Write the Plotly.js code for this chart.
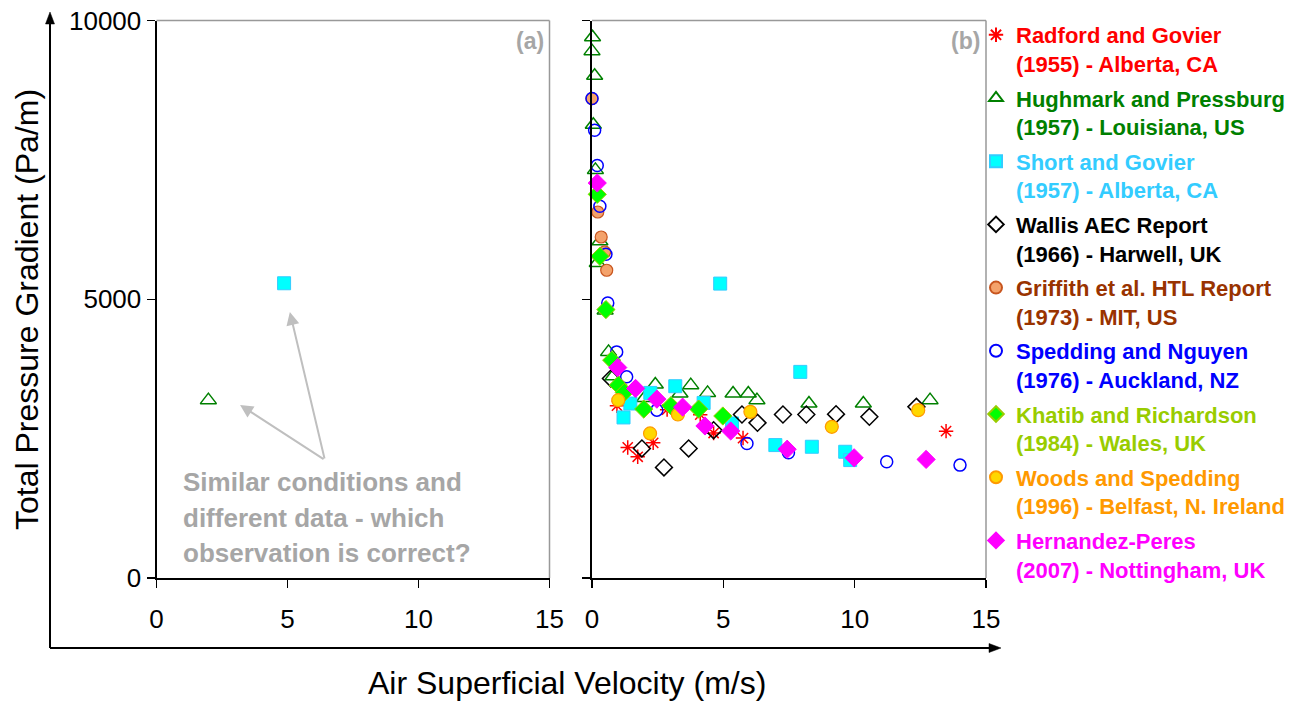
<!DOCTYPE html>
<html>
<head>
<meta charset="utf-8">
<script src="https://cdn.plot.ly/plotly-3.0.1.min.js"></script>
<style>html,body{margin:0;padding:0;background:#fff;}#chart{width:1302px;height:702px;}</style>
</head>
<body>
<div id="chart"></div>
<script>
// ---------- data ----------
const radfordX = [0.95, 2.86, 1.36, 1.74, 2.33, 4.12, 4.63, 5.75, 13.48];
const radfordY = [3090, 3020, 2342, 2174, 2425, 2930, 2600, 2510, 2634];

const hughmarkX = [0.02, 0.0, 0.1, 0.05, 0.13, 0.3, 0.2, 0.5, 0.63, 0.8, 2.0, 2.41, 3.35, 3.76, 4.4, 5.37, 5.95, 6.28, 8.26, 10.33, 12.87];
const hughmarkY = [9700, 9450, 9010, 8130, 7320, 6040, 5650, 4800, 4056, 3620, 3230, 3470, 3310, 3459, 3320, 3310, 3310, 3190, 3130, 3130, 3190];

const shortX = [1.2, 1.46, 2.22, 3.17, 4.25, 4.88, 5.33, 6.98, 7.93, 8.37, 9.64, 9.83];
const shortY = [2880, 3130, 3320, 3440, 3140, 5281, 2772, 2384, 3697, 2354, 2264, 2115];

const wallisX = [0.72, 1.9, 2.74, 3.68, 4.63, 5.71, 6.3, 7.27, 8.16, 9.29, 10.56, 12.35];
const wallisY = [3580, 2324, 1984, 2324, 2652, 2933, 2783, 2933, 2933, 2939, 2891, 3070];

const griffithX = [0.0, 0.22, 0.35, 0.48, 0.56];
const griffithY = [8600, 6565, 6117, 5848, 5520];

const speddingX = [0.0, 0.1, 0.2, 0.3, 0.53, 0.6, 0.94, 1.32, 2.47, 5.9, 7.48, 11.22, 14.01];
const speddingY = [8600, 8030, 7400, 6667, 5806, 4934, 4056, 3608, 3011, 2414, 2246, 2084, 2025];

const khatibX = [0.2, 0.3, 0.53, 0.75, 1.0, 1.23, 1.97, 3.0, 4.06, 4.98];
const khatibY = [6882, 5770, 4815, 3907, 3459, 3328, 3030, 3090, 3030, 2906];

const woodsX = [1.0, 2.21, 3.27, 6.03, 9.13, 12.42];
const woodsY = [3190, 2593, 2933, 2980, 2712, 3011];

const hernandezX = [0.2, 0.98, 1.66, 2.47, 3.45, 4.3, 5.28, 7.43, 9.98, 12.72];
const hernandezY = [7085, 3775, 3400, 3208, 3065, 2727, 2637, 2310, 2156, 2127];

// panel (a): the two conflicting observations
const panelAHughmarkX = [1.98];
const panelAHughmarkY = [3190];
const panelAShortX = [4.87];
const panelAShortY = [5287];

const seriesNames = [
  ['Radford and Govier', '(1955) - Alberta, CA'],
  ['Hughmark and Pressburg', '(1957) - Louisiana, US'],
  ['Short and Govier', '(1957) - Alberta, CA'],
  ['Wallis AEC Report', '(1966) - Harwell, UK'],
  ['Griffith et al. HTL Report', '(1973) - MIT, US'],
  ['Spedding and Nguyen', '(1976) - Auckland, NZ'],
  ['Khatib and Richardson', '(1984) - Wales, UK'],
  ['Woods and Spedding', '(1996) - Belfast, N. Ireland'],
  ['Hernandez-Peres', '(2007) - Nottingham, UK']
];
const textColors = ['#FF0000', '#008000', '#33CCFF', '#000000', '#993300', '#0000FF', '#99CC00', '#FF9900', '#FF00FF'];

const xTicks = [0, 5, 10, 15];
const xTickText = ['0', '5', '10', '15'];
const yTicks = [0, 5000, 10000];
const yTickText = ['0', '5000', '10000'];
const noteLines = ['Similar conditions and', 'different data - which', 'observation is correct?'];

// ---------- styling ----------
const FONT = 'Arial, "Liberation Sans", sans-serif';
const W = 1302, H = 702;
const px = v => v / W;
const py = v => 1 - v / H;

const markers = [
  {symbol: 'asterisk-open', size: 12, color: '#FF0000', line: {color: '#FF0000', width: 1.5}},
  {symbol: 'triangle-up-open', size: 14, color: '#008000', line: {color: '#008000', width: 1.5}},
  {symbol: 'square', size: 13, color: '#00FFFF', line: {color: '#33CCFF', width: 1}},
  {symbol: 'diamond-open', size: 13, color: '#000000', line: {color: '#000000', width: 1.5}},
  {symbol: 'circle', size: 12, color: '#F4A26B', line: {color: '#C8551E', width: 1.2}},
  {symbol: 'circle-open', size: 12, color: '#0000FF', line: {color: '#0000FF', width: 1.5}},
  {symbol: 'diamond', size: 14, color: '#00FF00', line: {color: '#99CC00', width: 1}},
  {symbol: 'circle', size: 13, color: '#FFD700', line: {color: '#FF9900', width: 1.2}},
  {symbol: 'diamond', size: 14, color: '#FF00FF', line: {color: '#FF00FF', width: 1}}
];

const dataX = [radfordX, hughmarkX, shortX, wallisX, griffithX, speddingX, khatibX, woodsX, hernandezX];
const dataY = [radfordY, hughmarkY, shortY, wallisY, griffithY, speddingY, khatibY, woodsY, hernandezY];

const traces = [];
// panel (a)
traces.push({x: panelAHughmarkX, y: panelAHughmarkY, xaxis: 'x', yaxis: 'y', type: 'scatter', mode: 'markers',
  marker: markers[1], showlegend: false, cliponaxis: false, hoverinfo: 'x+y'});
traces.push({x: panelAShortX, y: panelAShortY, xaxis: 'x', yaxis: 'y', type: 'scatter', mode: 'markers',
  marker: markers[2], showlegend: false, cliponaxis: false, hoverinfo: 'x+y'});
// panel (b)
for (let i = 0; i < seriesNames.length; i++) {
  traces.push({
    x: dataX[i], y: dataY[i], xaxis: 'x2', yaxis: 'y2', type: 'scatter', mode: 'markers',
    marker: markers[i], cliponaxis: false, legendgroup: 'g' + i,
    name: '<span style="color:' + textColors[i] + '"><b>' + seriesNames[i][0] + '<br>' + seriesNames[i][1] + '</b></span>'
  });
}

const axisCommon = {
  range: [0, 15], tickvals: xTicks, ticktext: xTickText, ticks: 'outside', ticklen: 8, tickwidth: 1.5, tickcolor: '#000',
  showline: true, linecolor: '#000', linewidth: 2, showgrid: false, zeroline: false, ticklabelstandoff: 9,
  tickfont: {family: FONT, size: 26, color: '#000'}, fixedrange: true
};
const yCommon = {
  range: [0, 10000], tickvals: yTicks, ticktext: yTickText, ticks: 'outside', ticklen: 8, tickwidth: 1.5, tickcolor: '#000',
  showline: true, linecolor: '#000', linewidth: 2, showgrid: false, zeroline: false,
  tickfont: {family: FONT, size: 26, color: '#000'}, fixedrange: true,
  domain: [py(578), py(20.5)]
};

const gray = '#A6A6A6';
const annotations = [
  {xref: 'paper', yref: 'paper', x: px(567), y: py(683), text: 'Air Superficial Velocity (m/s)', showarrow: false,
    xanchor: 'center', yanchor: 'middle', font: {family: FONT, size: 32, color: '#000'}},
  {xref: 'paper', yref: 'paper', x: px(27), y: py(310), text: 'Total Pressure Gradient (Pa/m)', showarrow: false,
    textangle: -90, xanchor: 'center', yanchor: 'middle', font: {family: FONT, size: 32, color: '#000'}},
  {xref: 'x domain', yref: 'y domain', x: 0.99, y: 0.99, text: '<b>(a)</b>', showarrow: false,
    xanchor: 'right', yanchor: 'top', font: {family: FONT, size: 23, color: gray}},
  {xref: 'x2 domain', yref: 'y2 domain', x: 0.99, y: 0.99, text: '<b>(b)</b>', showarrow: false,
    xanchor: 'right', yanchor: 'top', font: {family: FONT, size: 23, color: gray}},
  // arrows pointing at the two observations
  {xref: 'x', yref: 'y', x: 3.19, y: 3103, ax: 85, ay: 55, axref: 'pixel', ayref: 'pixel', text: '', showarrow: true,
    arrowhead: 2, arrowsize: 1.3, arrowwidth: 2, arrowcolor: '#BFBFBF'},
  {xref: 'x', yref: 'y', x: 5.09, y: 4771, ax: 35, ay: 148, axref: 'pixel', ayref: 'pixel', text: '', showarrow: true,
    arrowhead: 2, arrowsize: 1.3, arrowwidth: 2, arrowcolor: '#BFBFBF'}
];
const noteY = [482, 518, 553];
noteLines.forEach((t, i) => annotations.push({
  xref: 'paper', yref: 'paper', x: px(181), y: py(noteY[i]), text: '<b>' + t + '</b>', showarrow: false,
  xanchor: 'left', yanchor: 'middle', align: 'left', font: {family: FONT, size: 26, color: gray}
}));

const layout = {
  width: W, height: H,
  margin: {l: 0, r: 0, t: 0, b: 0},
  paper_bgcolor: '#fff', plot_bgcolor: 'rgba(0,0,0,0)',
  font: {family: FONT},
  showlegend: true,
  xaxis: Object.assign({}, axisCommon, {domain: [px(156.5), px(549.5)], anchor: 'y'}),
  yaxis: Object.assign({}, yCommon, {anchor: 'x'}),
  xaxis2: Object.assign({}, axisCommon, {domain: [px(592), px(986)], anchor: 'y2'}),
  yaxis2: Object.assign({}, yCommon, {anchor: 'x2', showticklabels: false}),
  legend: {
    x: px(976), y: py(14), xanchor: 'left', yanchor: 'top',
    font: {family: FONT, size: 22}, bgcolor: 'rgba(0,0,0,0)',
    valign: 'top', tracegroupgap: 3, itemsizing: 'constant', traceorder: 'grouped'
  },
  shapes: [
    // gray top/right frame of each panel
    {type: 'line', xref: 'x domain', yref: 'y domain', x0: 0, x1: 1, y0: 1, y1: 1, line: {color: '#999', width: 1.5}},
    {type: 'line', xref: 'x domain', yref: 'y domain', x0: 1, x1: 1, y0: 0, y1: 1, line: {color: '#999', width: 1.5}},
    {type: 'line', xref: 'x2 domain', yref: 'y2 domain', x0: 0, x1: 1, y0: 1, y1: 1, line: {color: '#999', width: 1.5}},
    {type: 'line', xref: 'x2 domain', yref: 'y2 domain', x0: 1, x1: 1, y0: 0, y1: 1, line: {color: '#999', width: 1.5}},
    // outer axis arrows
    {type: 'line', xref: 'paper', yref: 'paper', x0: px(50), x1: px(50), y0: py(648), y1: py(22), line: {color: '#000', width: 2}},
    {type: 'line', xref: 'paper', yref: 'paper', x0: px(50), x1: px(992), y0: py(648), y1: py(648), line: {color: '#000', width: 2}},
    {type: 'path', xref: 'paper', yref: 'paper',
      path: 'M ' + px(50) + ' ' + py(12) + ' L ' + px(45.5) + ' ' + py(24) + ' L ' + px(54.5) + ' ' + py(24) + ' Z',
      fillcolor: '#000', line: {color: '#000', width: 0.5}},
    {type: 'path', xref: 'paper', yref: 'paper',
      path: 'M ' + px(1001) + ' ' + py(648) + ' L ' + px(989) + ' ' + py(643.5) + ' L ' + px(989) + ' ' + py(652.5) + ' Z',
      fillcolor: '#000', line: {color: '#000', width: 0.5}}
  ],
  annotations: annotations
};

Plotly.newPlot('chart', traces, layout, {displayModeBar: false, staticPlot: true});
</script>
</body>
</html>
